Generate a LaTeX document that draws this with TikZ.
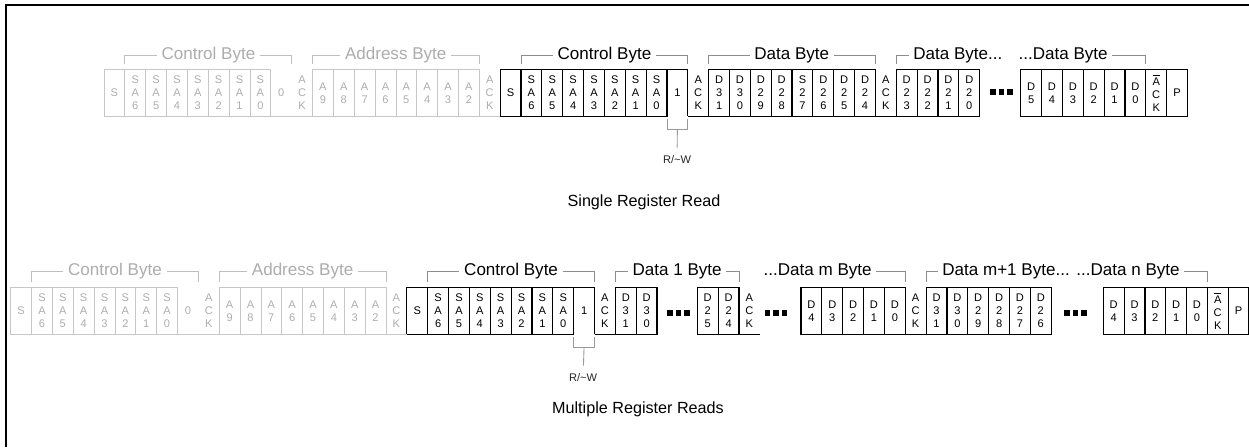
\documentclass[tikz,border=0pt]{standalone}
\usepackage{fontspec}
\setmainfont{Liberation Sans}

\begin{document}
\begin{tikzpicture}[x=0.02cm, y=-0.02cm,
    cell/.style={minimum width=0.417cm, minimum height=0.93cm, inner sep=0pt, outer sep=0pt,
        align=center, font=\fontsize{6.3}{7.4}\selectfont},
    bc/.style={cell, draw=black, line width=0.65pt},
    bt/.style={cell},
    rc/.style={cell},
    gc/.style={cell, draw=black!22, text=black!32, line width=0.45pt},
    gt/.style={cell, text=black!32},
    bline/.style={draw=black, line width=0.65pt},
    gline/.style={draw=black!22, line width=0.45pt},
    ttl/.style={font=\fontsize{9.7}{11}\selectfont, fill=white, inner xsep=2.5pt, inner ysep=0pt},
    gttl/.style={ttl, text=black!32},
    brk/.style={draw=black!45, line width=0.45pt},
    gbrk/.style={draw=black!25, line width=0.45pt},
    rwbrk/.style={draw=black!40, line width=0.5pt},
    rw/.style={font=\fontsize{6.3}{7}\selectfont, text=black!85, inner xsep=1pt, inner ysep=4.5pt},
    captxt/.style={font=\fontsize{9.2}{11}\selectfont}]

    \useasboundingbox (0,0) rectangle (1249,447);

    % Frame
    \draw[line width=1.2pt] (6,447) -- (6,5) -- (1249,5);

    % Single register read
    \foreach \st/\txt [count=\i] in {gc/S, gc/S\\A\\6, gc/S\\A\\5, gc/S\\A\\4, gc/S\\A\\3, gc/S\\A\\2,
        gc/S\\A\\1, gc/S\\A\\0, gt/0, gt/A\\C\\K, gc/A\\9, gc/A\\8, gc/A\\7, gc/A\\6, gc/A\\5,
        gc/A\\4, gc/A\\3, gc/A\\2, gt/A\\C\\K, bc/S, bc/S\\A\\6, bc/S\\A\\5, bc/S\\A\\4,
        bc/S\\A\\3, bc/S\\A\\2, bc/S\\A\\1, bc/S\\A\\0, rc/1, bt/A\\C\\K, bc/D\\3\\1, bc/D\\3\\0,
        bc/D\\2\\9, bc/D\\2\\8, bc/S\\2\\7, bc/D\\2\\6, bc/D\\2\\5, bc/D\\2\\4, bt/A\\C\\K,
        bc/D\\2\\3, bc/D\\2\\2, bc/D\\2\\1, bc/D\\2\\0}
        \node[\st] (a1-\i) at ({104+(\i-0.5)*20.85}, 93) {\txt};
    \foreach \st/\txt [count=\i] in {bc/D\\5, bc/D\\4, bc/D\\3, bc/D\\2, bc/D\\1, bc/D\\0,
        bc/$\overline{\mbox{A}}$\\C\\K, bc/P}
        \node[\st] (b1-\i) at ({1020.7+(\i-0.5)*20.85}, 93) {\txt};
    \draw[gline] (a1-1.south west) -- (a1-19.south east);
    \draw[bline] (a1-28.south west) |- (a1-28.north east) -- (a1-28.south east);
    \draw[bline] (a1-29.south west) -- (a1-42.south east);
    \foreach \dx in {-8.5,0,8.5}
        \fill ({1001.5+\dx-2.8},{92-2.8}) rectangle ++(5.6,5.6);

    % Byte titles
    \node[gttl] (t1a) at (208.4,55) {Control Byte};
    \node[gttl] (t1b) at (395.7,55) {Address Byte};
    \node[ttl] (t1c) at (604.4,55) {Control Byte};
    \node[ttl] (t1d) at (791.7,55) {Data Byte};
    \node[ttl, anchor=west] (t1e) at (908.6,55) {Data Byte...};
    \node[ttl, anchor=east] (t1f) at (1112.4,55) {...Data Byte};
    \draw[gbrk] ([yshift=3.5pt]a1-2.north west) |- (t1a) -| ([yshift=3.5pt]a1-9.north east);
    \draw[gbrk] ([yshift=3.5pt]a1-11.north west) |- (t1b) -| ([yshift=3.5pt]a1-18.north east);
    \draw[brk] ([yshift=3.5pt]a1-21.north west) |- (t1c) -| ([yshift=3.5pt]a1-28.north east);
    \draw[brk] ([yshift=3.5pt]a1-30.north west) |- (t1d) -| ([yshift=3.5pt]a1-37.north east);
    \draw[brk] ([yshift=3.5pt]a1-39.north west) |- (t1e);
    \draw[brk] (t1f) -| ([yshift=3.5pt]b1-6.north east);

    % R/~W bit
    \node[rw] (rw1) at (677,160) {R/\textasciitilde W};
    \draw[rwbrk] ([yshift=-1.7pt]a1-28.south west) -- ++(0,10) -| ([yshift=-1.7pt]a1-28.south east);
    \draw[rwbrk] ([yshift=-7.4pt]a1-28.south) -- (rw1);

    \node[captxt] (c1) at (644,202) {Single Register Read};

    % Multiple register reads
    \foreach \st/\txt [count=\i] in {gc/S, gc/S\\A\\6, gc/S\\A\\5, gc/S\\A\\4, gc/S\\A\\3, gc/S\\A\\2,
        gc/S\\A\\1, gc/S\\A\\0, gt/0, gt/A\\C\\K, gc/A\\9, gc/A\\8, gc/A\\7, gc/A\\6, gc/A\\5,
        gc/A\\4, gc/A\\3, gc/A\\2, gt/A\\C\\K, bc/S, bc/S\\A\\6, bc/S\\A\\5, bc/S\\A\\4,
        bc/S\\A\\3, bc/S\\A\\2, bc/S\\A\\1, bc/S\\A\\0, rc/1, bt/A\\C\\K, bc/D\\3\\1, bc/D\\3\\0}
        \node[\st] (a2-\i) at ({10.7+(\i-0.5)*20.85}, 311) {\txt};
    \foreach \st/\txt [count=\i] in {bc/D\\2\\5, bc/D\\2\\4, bt/A\\C\\K}
        \node[\st] (b2-\i) at ({697.3+(\i-0.5)*20.85}, 311) {\txt};
    \foreach \st/\txt [count=\i] in {bc/D\\4, bc/D\\3, bc/D\\2, bc/D\\1, bc/D\\0, bt/A\\C\\K,
        bc/D\\3\\1, bc/D\\3\\0, bc/D\\2\\9, bc/D\\2\\8, bc/D\\2\\7, bc/D\\2\\6}
        \node[\st] (c2-\i) at ({801+(\i-0.5)*20.85}, 311) {\txt};
    \foreach \st/\txt [count=\i] in {bc/D\\4, bc/D\\3, bc/D\\2, bc/D\\1, bc/D\\0,
        bc/$\overline{\mbox{A}}$\\C\\K, bc/P}
        \node[\st] (d2-\i) at ({1103.3+(\i-0.5)*20.8}, 311) {\txt};
    \draw[gline] (a2-1.south west) -- (a2-19.south east);
    \draw[bline] (a2-28.south west) |- (a2-28.north east) -- (a2-28.south east);
    \draw[bline] (a2-29.south west) -- (a2-31.south east);
    \draw[bline] (b2-1.south west) -- (b2-3.south east);
    \draw[bline] (c2-1.south west) -- (c2-12.south east);
    \foreach \cx in {678.5,776,1075.5}
        \foreach \dx in {-8.5,0,8.5}
            \fill ({\cx+\dx-2.8},{313-2.8}) rectangle ++(5.6,5.6);

    % Byte titles
    \node[gttl] (t2a) at (114.9,271) {Control Byte};
    \node[gttl] (t2b) at (302.6,271) {Address Byte};
    \node[ttl] (t2c) at (511.1,271) {Control Byte};
    \node[ttl] (t2d) at (677.2,271) {Data 1 Byte};
    \node[ttl, anchor=east] (t2e) at (876.4,271) {...Data m Byte};
    \node[ttl, anchor=west] (t2f) at (937.6,271) {Data m+1 Byte...};
    \node[ttl, anchor=east] (t2g) at (1184.4,271) {...Data n Byte};
    \draw[gbrk] ([yshift=3.5pt]a2-2.north west) |- (t2a) -| ([yshift=3.5pt]a2-9.north east);
    \draw[gbrk] ([yshift=3.5pt]a2-11.north west) |- (t2b) -| ([yshift=3.5pt]a2-18.north east);
    \draw[brk] ([yshift=3.5pt]a2-21.north west) |- (t2c) -| ([yshift=3.5pt]a2-28.north east);
    \draw[brk] ([yshift=3.5pt]a2-30.north west) |- (t2d) -| ([yshift=3.5pt]b2-2.north east);
    \draw[brk] (t2e) -| ([yshift=3.5pt]c2-5.north east);
    \draw[brk] ([yshift=3.5pt]c2-7.north west) |- (t2f);
    \draw[brk] (t2g) -| ([yshift=3.5pt]d2-5.north east);

    % R/~W bit
    \node[rw] (rw2) at (583,378) {R/\textasciitilde W};
    \draw[rwbrk] ([yshift=-1.7pt]a2-28.south west) -- ++(0,10) -| ([yshift=-1.7pt]a2-28.south east);
    \draw[rwbrk] ([yshift=-7.4pt]a2-28.south) -- (rw2);

    \node[captxt] (c2) at (638,409) {Multiple Register Reads};

\end{tikzpicture}
\end{document}
